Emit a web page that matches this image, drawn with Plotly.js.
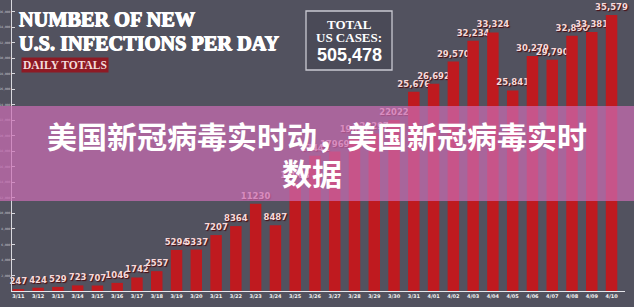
<!DOCTYPE html>
<html>
<head>
<meta charset="utf-8">
<script src="https://cdn.plot.ly/plotly-3.0.1.min.js"></script>
<style>
  html, body { margin: 0; padding: 0; background: #52525f; }
  #chart { width: 634px; height: 307px; }
</style>
</head>
<body>
<div id="chart"></div>
<script>
// ---- data ----
const dates = ['3/11','3/12','3/13','3/14','3/15','3/16','3/17','3/18','3/19','3/20',
               '3/21','3/22','3/23','3/24','3/25','3/26','3/27','3/28','3/29','3/30',
               '3/31','4/01','4/02','4/03','4/04','4/05','4/06','4/07','4/08','4/09','4/10'];
const newCases = [247, 424, 529, 723, 707, 1046, 1742, 2557, 5294, 5337,
                  7207, 8364, 11230, 8487, 13963, 17441, 17969, 19821, 20297, 22022,
                  25676, 26692, 29570, 32234, 33324, 25841, 30279, 29790, 32890, 33381, 35579];
// labels from 3/31 on are printed with thousands separators in the source
const commaFrom = 20;
const yTickVals = [2000,4000,6000,8000,10000,12000,14000,16000,18000,20000,22000,24000,
                   26000,28000,30000,32000,34000,36000];
const totalCases = '505,478';
const headline1 = 'NUMBER OF NEW';
const headline2 = 'U.S. INFECTIONS PER DAY';
const subHead = 'DAILY TOTALS';
const bannerLine1 = '美国新冠病毒实时动，美国新冠病毒实时';
const bannerLine2 = '数据';

const barLabels = newCases.map((v, i) =>
  i >= commaFrom ? v.toLocaleString('en-US') : String(v));

// ---- geometry helpers (pixel -> paper) ----
const W = 634, H = 307;
const L = 12, R = 9, T = 0, B = 16;
const pw = W - L - R, ph = H - T - B;
const px = x => (x - L) / pw;
const py = y => (H - B - y) / ph;

const serif = 'Liberation Serif, Times New Roman, serif';
const heavy = '0.6px 0 0 #ffffff, -0.6px 0 0 #ffffff, 0 0.5px 0 #ffffff';

const trace = {
  type: 'bar',
  x: dates,
  y: newCases,
  text: barLabels,
  textposition: 'outside',
  constraintext: 'none',
  cliponaxis: false,
  textangle: 0,
  textfont: { family: 'DejaVu Sans, Verdana, sans-serif', size: 8.5, weight: 'bold',
              color: '#f6dada', shadow: '1px 1px 1px #4a0a0e' },
  marker: { color: '#bf1a1f', line: { width: 0 } },
  hoverinfo: 'skip'
};

const layout = {
  width: W, height: H,
  margin: { l: L, r: R, t: T, b: B, pad: 0 },
  paper_bgcolor: '#52525f',
  plot_bgcolor: 'rgba(0,0,0,0)',
  bargap: 0.42,
  showlegend: false,
  xaxis: {
    type: 'category',
    range: [-0.32, 30.68],
    showgrid: false, zeroline: false,
    showline: true, linecolor: '#e6e6ea', linewidth: 1.2,
    ticks: '', ticklen: 0,
    tickfont: { family: 'DejaVu Sans, sans-serif', size: 5, weight: 'bold', color: '#f2f2f2' },
    fixedrange: true
  },
  yaxis: {
    range: [0, 37500],
    showgrid: false, zeroline: false,
    showline: true, linecolor: '#d8d8de', linewidth: 1,
    tickvals: yTickVals,
    tickformat: ',d',
    ticks: 'inside', ticklen: 3, tickcolor: '#d8d8de', tickwidth: 1,
    tickfont: { family: 'DejaVu Sans Mono, DejaVu Sans, sans-serif', size: 3, color: '#c9c9d0' },
    fixedrange: true
  },
  shapes: [
    // total cases box
    { type: 'rect', xref: 'paper', yref: 'paper', layer: 'above',
      x0: px(306), x1: px(392), y0: py(11), y1: py(70),
      line: { color: '#c9c9d2', width: 1.3 }, fillcolor: 'rgba(60,60,74,0.35)' },
    // translucent pink banner
    { type: 'rect', xref: 'paper', yref: 'paper', layer: 'above',
      x0: px(0), x1: px(634), y0: py(106), y1: py(201),
      line: { width: 0 }, fillcolor: 'rgba(203,109,181,0.71)' }
  ],
  annotations: [
    { xref: 'paper', yref: 'paper', x: px(17), y: py(19), xanchor: 'left', yanchor: 'middle',
      text: headline1, showarrow: false,
      font: { family: serif, size: 20.3, weight: 'bold', color: '#ffffff', shadow: heavy } },
    { xref: 'paper', yref: 'paper', x: px(17), y: py(43), xanchor: 'left', yanchor: 'middle',
      text: headline2, showarrow: false,
      font: { family: serif, size: 20.3, weight: 'bold', color: '#ffffff', shadow: heavy } },
    { xref: 'paper', yref: 'paper', x: px(21), y: py(65), xanchor: 'left', yanchor: 'middle',
      text: subHead, showarrow: false, bgcolor: '#8e1a24', borderpad: 1,
      font: { family: serif, size: 11.5, weight: 'bold', color: '#f4dcdc' } },
    { xref: 'paper', yref: 'paper', x: px(349), y: py(24), xanchor: 'center', yanchor: 'middle',
      text: 'TOTAL', showarrow: false,
      font: { family: serif, size: 13, weight: 'bold', color: '#ffffff' } },
    { xref: 'paper', yref: 'paper', x: px(349), y: py(38), xanchor: 'center', yanchor: 'middle',
      text: 'US CASES:', showarrow: false,
      font: { family: serif, size: 13, weight: 'bold', color: '#ffffff' } },
    { xref: 'paper', yref: 'paper', x: px(349), y: py(55), xanchor: 'center', yanchor: 'middle',
      text: totalCases, showarrow: false,
      font: { family: 'Liberation Sans, Arial, sans-serif', size: 18, weight: 'bold', color: '#ffffff' } },
    { xref: 'paper', yref: 'paper', x: px(317), y: py(135), xanchor: 'center', yanchor: 'middle',
      text: bannerLine1, showarrow: false,
      font: { family: 'Noto Sans CJK SC, sans-serif', size: 30, weight: 'bold', color: '#ffffff' } },
    { xref: 'paper', yref: 'paper', x: px(312), y: py(172), xanchor: 'center', yanchor: 'middle',
      text: bannerLine2, showarrow: false,
      font: { family: 'Noto Sans CJK SC, sans-serif', size: 30, weight: 'bold', color: '#ffffff' } }
  ]
};

Plotly.newPlot('chart', [trace], layout, { staticPlot: true, displayModeBar: false });
</script>
</body>
</html>
